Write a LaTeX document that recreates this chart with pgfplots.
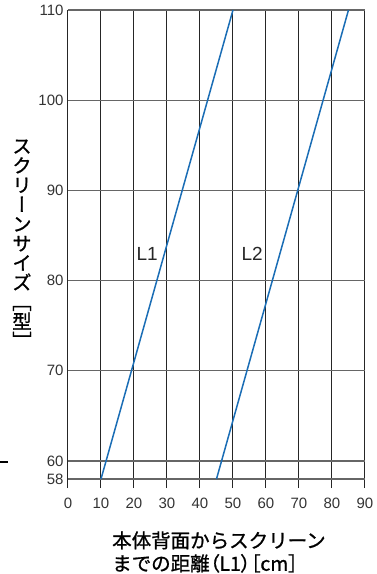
\documentclass[border=0pt]{standalone}
\usepackage{pgfplots}
\pgfplotsset{compat=1.18}
\usepackage{fontspec}
\setmainfont{Liberation Sans}
\newfontfamily\cjk[FakeBold=1]{Noto Sans CJK JP}
\newfontfamily\cjkp[FakeBold=1,RawFeature=+palt]{Noto Sans CJK JP}
\newfontfamily\cjkv[FakeBold=1,RawFeature=+vert]{Noto Sans CJK JP}
\definecolor{lineblue}{HTML}{1A6DB5}
\definecolor{ticktext}{HTML}{333333}

\begin{document}
\begin{tikzpicture}
\useasboundingbox (-68pt,-86pt) rectangle (308pt,488pt);
\begin{axis}[
  at={(0,0)}, anchor=south west,
  scale only axis, width=297pt, height=478pt,
  xmin=0, xmax=90, ymin=57, ymax=110,
  xtick={0,10,...,90}, ytick={58,60,70,80,90,100},
  extra y ticks={110},
  extra y tick style={grid style={black!85, line width=1pt}},
  axis line style={draw=none},
  major tick length=0pt,
  xmajorgrids, ymajorgrids,
  x grid style={black!85, line width=1pt},
  y grid style={black!60, line width=1.3pt},
  /pgf/number format/assume math mode=true,
  xticklabel style={font=\fontsize{15}{15}\selectfont, text=ticktext, yshift=-6pt},
  yticklabel style={font=\fontsize{15}{15}\selectfont, text=ticktext, xshift=-1pt},
]
\addplot[lineblue, line width=1.5pt] coordinates {(10,58) (50,110)};
\addplot[lineblue, line width=1.5pt] coordinates {(45,58) (85,110)};
\node[font=\fontsize{19}{19}\selectfont, text=black!85] at (axis cs:24,83) {L1};
\node[font=\fontsize{19}{19}\selectfont, text=black!85] at (axis cs:55.8,83) {L2};
\end{axis}
% y label, set vertically
\node[font=\cjkv\fontsize{19.5}{19.5}\selectfont, align=center, inner sep=0pt]
  at (-46pt,244pt) {ス\\ク\\リ\\ー\\ン\\サ\\イ\\ズ\\［\\型\\］};
% x label
\node[font=\cjk\fontsize{19.5}{23}\selectfont, align=left, anchor=west, inner sep=0pt]
  at (44pt,-64pt) {本体背面からスクリーン\\までの距離{\cjkp（L1）［cm］}};
\draw[black, line width=1.2pt] (-68pt,26pt) -- (-60pt,26pt);
\end{tikzpicture}
\end{document}
